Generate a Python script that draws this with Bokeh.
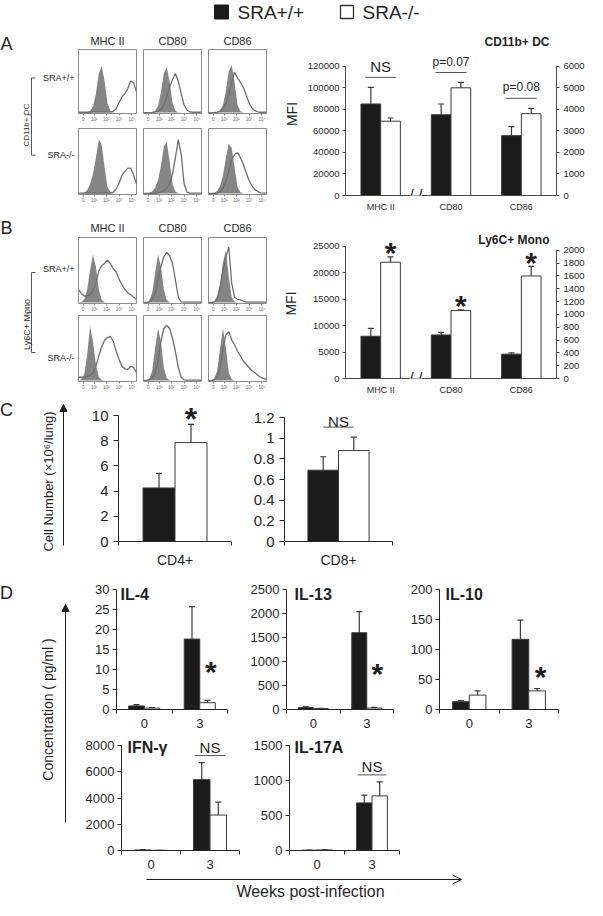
from math import pi
from bokeh.plotting import figure
from bokeh.models import (Range1d, LinearAxis, FixedTicker, NumeralTickFormatter, Label,
                          Whisker, TeeHead, ColumnDataSource, Spacer, Arrow, OpenHead, NormalHead)
from bokeh.layouts import row, column
from bokeh.embed import file_html
from bokeh.resources import INLINE
from bokeh.core.properties import value

# ---------------------------------------------------------------- data
GROUPS = ["SRA+/+", "SRA-/-"]
MARKERS = ["MHC II", "CD80", "CD86"]

# A: CD11b+ DC MFI  (MHC II -> left axis, CD80 / CD86 -> right axis)
A_WT = [85000, 3750, 2780]
A_WT_SEM = [15500, 500, 420]
A_KO = [69000, 5000, 3800]
A_KO_SEM = [3000, 250, 250]
A_SIG = ["NS", "p=0.07", "p=0.08"]

# B: Ly6C+ Mono MFI
B_WT = [8000, 680, 380]
B_WT_SEM = [1500, 40, 20]
B_KO = [22000, 1060, 1600]
B_KO_SEM = [1000, 12, 150]

# flow histograms (fraction of box height), isotype (filled) and sample (line)
HIST_X = [0.0, 0.05, 0.1, 0.15, 0.2, 0.25, 0.3, 0.35, 0.4, 0.45, 0.5,
          0.55, 0.6, 0.65, 0.7, 0.75, 0.8, 0.85, 0.9, 0.95, 1.0]
HIST_TICKS = [0.08, 0.27, 0.48, 0.70, 0.92]
HIST_TICK_LABELS = ["0", "10¹", "10²", "10³", "10⁴"]

DC_WT_MHC_FILL = [0, 0, 0.005, 0.01, 0.03, 0.1, 0.3, 0.62, 0.74, 0.5, 0.14, 0.03, 0.005, 0, 0, 0, 0, 0, 0, 0, 0]
DC_WT_MHC_LINE = [0.005, 0.005, 0.005, 0.005, 0.005, 0.01, 0.01, 0.01, 0.01, 0.01, 0.01, 0.01, 0.02, 0.06, 0.16, 0.25, 0.3, 0.38, 0.5, 0.47, 0.33]
DC_WT_CD80_FILL = [0, 0, 0.005, 0.01, 0.03, 0.1, 0.32, 0.62, 0.72, 0.5, 0.15, 0.03, 0.005, 0, 0, 0, 0, 0, 0, 0, 0]
DC_WT_CD80_LINE = [0, 0, 0, 0, 0.01, 0.02, 0.05, 0.12, 0.25, 0.4, 0.52, 0.62, 0.5, 0.3, 0.12, 0.04, 0.01, 0.005, 0.005, 0.005, 0.005]
DC_WT_CD86_FILL = [0, 0, 0.005, 0.01, 0.04, 0.12, 0.35, 0.66, 0.75, 0.48, 0.12, 0.02, 0, 0, 0, 0, 0, 0, 0, 0, 0]
DC_WT_CD86_LINE = [0, 0, 0, 0.005, 0.02, 0.06, 0.15, 0.3, 0.5, 0.64, 0.55, 0.48, 0.4, 0.28, 0.15, 0.07, 0.03, 0.01, 0.005, 0.005, 0.005]
DC_KO_MHC_FILL = [0, 0, 0.01, 0.05, 0.15, 0.3, 0.55, 0.83, 0.75, 0.4, 0.1, 0.02, 0, 0, 0, 0, 0, 0, 0, 0, 0]
DC_KO_MHC_LINE = [0.005, 0.005, 0.005, 0.005, 0.005, 0.005, 0.005, 0.005, 0.005, 0.005, 0.005, 0.005, 0.02, 0.07, 0.16, 0.28, 0.34, 0.39, 0.39, 0.28, 0.15]
DC_KO_CD80_FILL = [0, 0, 0.01, 0.03, 0.09, 0.2, 0.42, 0.72, 0.8, 0.5, 0.15, 0.03, 0.005, 0, 0, 0, 0, 0, 0, 0, 0]
DC_KO_CD80_LINE = [0, 0, 0, 0, 0, 0.01, 0.02, 0.04, 0.08, 0.15, 0.3, 0.55, 0.83, 0.6, 0.15, 0.02, 0.005, 0.005, 0.005, 0.005, 0.005]
DC_KO_CD86_FILL = [0, 0, 0.01, 0.04, 0.12, 0.28, 0.55, 0.77, 0.7, 0.4, 0.1, 0.02, 0, 0, 0, 0, 0, 0, 0, 0, 0]
DC_KO_CD86_LINE = [0, 0, 0, 0.01, 0.03, 0.08, 0.18, 0.35, 0.52, 0.6, 0.63, 0.55, 0.45, 0.32, 0.2, 0.12, 0.06, 0.03, 0.01, 0.005, 0.005]

MO_WT_MHC_FILL = [0, 0.01, 0.05, 0.2, 0.5, 0.74, 0.55, 0.2, 0.04, 0.005, 0, 0, 0, 0, 0, 0, 0, 0, 0, 0, 0]
MO_WT_MHC_LINE = [0.2, 0.14, 0.1, 0.1, 0.12, 0.18, 0.3, 0.48, 0.57, 0.6, 0.65, 0.6, 0.52, 0.47, 0.36, 0.27, 0.2, 0.15, 0.12, 0.08, 0.05]
MO_WT_CD80_FILL = [0, 0.005, 0.03, 0.15, 0.45, 0.74, 0.55, 0.2, 0.04, 0.005, 0, 0, 0, 0, 0, 0, 0, 0, 0, 0, 0]
MO_WT_CD80_LINE = [0, 0, 0.01, 0.05, 0.15, 0.35, 0.55, 0.7, 0.77, 0.72, 0.6, 0.35, 0.08, 0.01, 0.005, 0.005, 0.005, 0.005, 0.005, 0.005, 0.005]
MO_WT_CD86_FILL = [0, 0.005, 0.02, 0.1, 0.3, 0.62, 0.8, 0.4, 0.08, 0.01, 0, 0, 0, 0, 0, 0, 0, 0, 0, 0, 0]
MO_WT_CD86_LINE = [0, 0, 0.01, 0.05, 0.2, 0.5, 0.7, 0.85, 0.3, 0.08, 0.05, 0.04, 0.02, 0.005, 0.005, 0.005, 0.005, 0.005, 0.005, 0.005, 0.005]
MO_KO_MHC_FILL = [0, 0.02, 0.1, 0.4, 0.84, 0.6, 0.25, 0.05, 0.01, 0, 0, 0, 0, 0, 0, 0, 0, 0, 0, 0, 0]
MO_KO_MHC_LINE = [0.05, 0.05, 0.05, 0.06, 0.08, 0.12, 0.22, 0.38, 0.52, 0.62, 0.66, 0.68, 0.6, 0.45, 0.32, 0.22, 0.18, 0.17, 0.22, 0.2, 0.12]
MO_KO_CD80_FILL = [0, 0.005, 0.03, 0.15, 0.5, 0.8, 0.6, 0.2, 0.04, 0.005, 0, 0, 0, 0, 0, 0, 0, 0, 0, 0, 0]
MO_KO_CD80_LINE = [0, 0, 0.01, 0.04, 0.12, 0.3, 0.6, 0.8, 0.85, 0.8, 0.65, 0.45, 0.2, 0.05, 0.01, 0.005, 0.005, 0.005, 0.005, 0.005, 0.005]
MO_KO_CD86_FILL = [0, 0.005, 0.03, 0.15, 0.5, 0.8, 0.5, 0.12, 0.02, 0, 0, 0, 0, 0, 0, 0, 0, 0, 0, 0, 0]
MO_KO_CD86_LINE = [0, 0, 0.01, 0.05, 0.2, 0.5, 0.7, 0.75, 0.62, 0.55, 0.45, 0.38, 0.3, 0.25, 0.2, 0.15, 0.12, 0.08, 0.05, 0.03, 0.02]

# C: lung T cells (x10^6 / lung)
C_LABELS = ["CD4+", "CD8+"]
C_WT = [4.25, 0.69]
C_WT_SEM = [1.15, 0.13]
C_KO = [7.85, 0.88]
C_KO_SEM = [1.45, 0.13]
C1_TICKS = [0, 2, 4, 6, 8, 10]
C2_TICKS = [0, 0.2, 0.4, 0.6, 0.8, 1.0, 1.2]

# D: cytokines (pg/ml) at weeks 0 and 3
WEEKS = ["0", "3"]
IL4_WT, IL4_WT_SEM, IL4_KO, IL4_KO_SEM = [0.9, 17.6], [0.3, 8.1], [0.35, 1.7], [0.1, 0.6]
IL13_WT, IL13_WT_SEM, IL13_KO, IL13_KO_SEM = [40, 1600], [20, 440], [20, 30], [5, 15]
IL10_WT, IL10_WT_SEM, IL10_KO, IL10_KO_SEM = [13, 117], [2, 32], [24, 31], [7, 4]
IFNG_WT, IFNG_WT_SEM, IFNG_KO, IFNG_KO_SEM = [40, 5400], [20, 1300], [15, 2700], [5, 980]
IL17_WT, IL17_WT_SEM, IL17_KO, IL17_KO_SEM = [5, 680], [2, 110], [8, 780], [2, 200]

# ---------------------------------------------------------------- style
FONT = "Liberation Sans"
INK = "#1f1f1f"
BAR_BLACK = "#1b1b1b"
BAR_EDGE = "#3a3a3a"
AXIS_C = "#4a4a4a"
AXIS_D = "#262626"
HIST_FILL = "#858585"
HIST_LINE = "#6e6e6e"
BOX_C = "#8c8c8c"
SIG_C = "#555555"


def nogrid(p):
    p.xgrid.visible = False
    p.ygrid.visible = False


def canvas(w, h, x0, x1, y0, y1):
    p = figure(width=w, height=h, x_range=Range1d(x0, x1), y_range=Range1d(y1, y0),
               x_axis_location=None, y_axis_location=None, toolbar_location=None,
               output_backend="svg", min_border=0, title=None)
    p.outline_line_color = None
    nogrid(p)
    return p


def ctext(p, x, y, t, size, align="center", angle=0, bold=False):
    p.text(x=[x], y=[y], text=[t], text_align=align, text_baseline="middle", angle=angle,
           text_font=value(FONT), text_font_size=size, text_color=INK,
           text_font_style="bold" if bold else "normal")


def chart(w, h, bl, br, bt, bb, xr, yr):
    p = figure(width=w, height=h, x_range=xr, y_range=yr, x_axis_location=None,
               y_axis_location=None, toolbar_location=None, output_backend="svg", title=None,
               min_border_left=bl, min_border_right=br, min_border_top=bt, min_border_bottom=bb)
    p.outline_line_color = None
    nogrid(p)
    return p


def style(ax, size, tick_out, standoff, color):
    ax.axis_line_color = color
    ax.axis_line_width = 1
    ax.major_tick_line_color = color
    ax.major_tick_in = 0
    ax.major_tick_out = tick_out
    ax.minor_tick_line_color = None
    ax.major_label_text_font = FONT
    ax.major_label_text_font_size = size
    ax.major_label_text_color = INK
    ax.major_label_standoff = standoff


def slabel(p, x, y, t, size, align="center", angle=0, bold=False, xu="screen", yu="screen",
           yoff=0, rname="default"):
    p.add_layout(Label(x=x, y=y, x_units=xu, y_units=yu, text=t, text_font=FONT,
                       text_font_size=size, text_align=align, text_baseline="middle",
                       angle=angle, text_font_style="bold" if bold else "normal",
                       text_color=INK, y_offset=yoff, y_range_name=rname))


def bars(p, pos, wt, wt_sem, ko, ko_sem, bw, idxs, rname="default"):
    for vals, sems, off, fill in ((wt, wt_sem, -bw / 2, BAR_BLACK), (ko, ko_sem, bw / 2, "white")):
        src = ColumnDataSource(dict(x=[pos[i] + off for i in idxs], top=[vals[i] for i in idxs],
                                    up=[vals[i] + sems[i] for i in idxs]))
        p.vbar(x="x", top="top", bottom=0, width=bw, source=src, fill_color=fill,
               line_color=BAR_EDGE, line_width=1, y_range_name=rname)
        p.add_layout(Whisker(source=src, base="x", lower="top", upper="up", dimension="height",
                             line_color=BAR_EDGE, line_width=1.2, lower_head=None,
                             upper_head=TeeHead(size=6, line_color=BAR_EDGE, line_width=1.2),
                             y_range_name=rname))


def sig(p, x, y, t, size, gap, half, rname="default"):
    p.segment(x0=[x - half], x1=[x + half], y0=[y], y1=[y], line_color=SIG_C, line_width=1,
              y_range_name=rname)
    slabel(p, x, y, t, size, xu="data", yu="data", yoff=gap, rname=rname)


def star(p, x, y, size="30px", yu="data", yoff=4, rname="default"):
    p.add_layout(Label(x=x, y=y, y_units=yu, y_offset=yoff, text="*", text_font=FONT,
                       text_font_size=size, text_font_style="bold", text_align="center",
                       text_baseline="middle", text_color=INK, y_range_name=rname))


# ---------------------------------------------------------------- legend row
leg = canvas(587, 24, 8, 595, 8, 32)
leg.scatter(x=[229], y=[19.5], marker="square", size=14, fill_color=BAR_BLACK, line_color=BAR_BLACK)
leg.scatter(x=[354.5], y=[19.5], marker="square", size=13, fill_color="white", line_color="#333333",
            line_width=1.3)
ctext(leg, 245, 19.5, GROUPS[0], "19px", align="left")
ctext(leg, 370, 19.5, GROUPS[1], "19px", align="left")


# ---------------------------------------------------------------- histograms
def hist(fill, line, fh, bt, bb):
    p = chart(65, bt + fh + bb, 1, 6, bt, bb, Range1d(0, 1), Range1d(-0.015, 1.0))
    p.outline_line_color = BOX_C
    p.varea(x=HIST_X, y1=0, y2=fill, fill_color=HIST_FILL)
    p.line(HIST_X, line, line_color=HIST_LINE, line_width=1.3)
    ax = LinearAxis(ticker=FixedTicker(ticks=HIST_TICKS),
                    major_label_overrides=dict(zip(HIST_TICKS, HIST_TICK_LABELS)))
    style(ax, "4.5px", 2, 1, BOX_C)
    ax.axis_line_color = None
    ax.major_label_text_color = "#666666"
    p.add_layout(ax, "below")
    return p


def hist_block(r1, r2, y0, y1, ty, fh1, bt1, bb1, fh2, bt2, bb2):
    heads = canvas(195, y1 - y0, 85, 280, y0, y1)
    for i, m in enumerate(MARKERS):
        ctext(heads, 85 + 1 + 29 + 65 * i, ty, m, "11px")
    top = row(*[hist(f, l, fh1, bt1, bb1) for (f, l) in r1])
    bot = row(*[hist(f, l, fh2, bt2, bb2) for (f, l) in r2])
    return column(heads, top, bot)


def side_labels(p, letter, ly, sy1, sy2, bt, bb, bm, cell, cell_size, cell_y):
    ctext(p, 14, ly, letter, "18px")
    ctext(p, 82, sy1, GROUPS[0], "9px", align="right")
    ctext(p, 82, sy2, GROUPS[1], "9px", align="right")
    p.segment(x0=[39, 39, 39, 35], y0=[bt, bt, bb, bm], x1=[39, 43, 43, 39], y1=[bb, bt, bb, bm],
              line_color="#555555", line_width=1)
    ctext(p, 34, cell_y, cell, cell_size, angle=pi / 2)
    return p


# ---------------------------------------------------------------- MFI charts
def mfi_chart(FL, FB, bl, fw, br, bt, fh, bb, y_top, y_top_px, y_step, r_top, r_top_px, r_step,
              wt, wt_sem, ko, ko_sem, title, title_y, mfi_standoff):
    p = chart(bl + fw + br, bt + fh + bb, bl, br, bt, bb, Range1d(-0.5, 2.5),
              Range1d(0, y_top * fh / y_top_px))
    p.extra_y_ranges = {"r": Range1d(0, r_top * fh / r_top_px)}
    pos = list(range(len(MARKERS)))
    bw = 0.28
    bars(p, pos, wt, wt_sem, ko, ko_sem, bw, [0])
    bars(p, pos, wt, wt_sem, ko, ko_sem, bw, [1, 2], "r")
    left = LinearAxis(ticker=FixedTicker(ticks=list(range(0, y_top + 1, y_step))),
                      formatter=NumeralTickFormatter(format="0"), bounds=(0, y_top),
                      axis_label="MFI")
    style(left, "9.5px", 3, 3, AXIS_C)
    left.axis_label_text_font = FONT
    left.axis_label_text_font_size = "14px"
    left.axis_label_text_font_style = "normal"
    left.axis_label_text_color = INK
    left.axis_label_standoff = mfi_standoff
    p.add_layout(left, "left")
    right = LinearAxis(y_range_name="r", ticker=FixedTicker(ticks=list(range(0, r_top + 1, r_step))),
                       formatter=NumeralTickFormatter(format="0"), bounds=(0, r_top))
    style(right, "9.5px", 3, 4, AXIS_C)
    p.add_layout(right, "right")
    xa = LinearAxis(ticker=FixedTicker(ticks=pos), major_label_overrides=dict(zip(pos, MARKERS)))
    style(xa, "9px", 0, 6, AXIS_C)
    xa.major_tick_line_color = None
    p.add_layout(xa, "below")
    p.add_layout(Label(x=0.5, y=0, text="/ /", text_font=FONT, text_font_size="16px",
                       text_align="center", text_baseline="middle", text_color=INK,
                       background_fill_color="white"))
    slabel(p, 557 - FL, FB - title_y, title, "12px", align="right", bold=True)
    return p, pos, bw


A_FH = 164
barA, posA, bwA = mfi_chart(353, 204, 73, 211, 31, 8, A_FH, 18, 120000, 130, 20000, 6000, 130, 1000,
                            A_WT, A_WT_SEM, A_KO, A_KO_SEM, "CD11b+ DC", 50, 5)
for i in range(len(MARKERS)):
    rng = barA.y_range.end if i == 0 else barA.extra_y_ranges["r"].end
    top = max(A_WT[i] + A_WT_SEM[i], A_KO[i] + A_KO_SEM[i]) + 10 * rng / A_FH
    sig(barA, posA[i], top, A_SIG[i], "15px" if A_SIG[i] == "NS" else "12px", 11, 0.22,
        "default" if i == 0 else "r")

barB, posB, bwB = mfi_chart(353, 387, 73, 213, 29, 14, 151, 18, 25000, 133, 5000, 2000, 129, 200,
                            B_WT, B_WT_SEM, B_KO, B_KO_SEM, "Ly6C+ Mono", 248, 11)
for i in range(len(MARKERS)):
    star(barB, posB[i] + bwB / 2, B_KO[i] + B_KO_SEM[i], rname="default" if i == 0 else "r")

leftA = side_labels(canvas(77, 190, 8, 85, 32, 222), "A", 45, 85, 175, 85, 175, 128,
                    "CD11b+ DC", "8px", 140)
secA = row(
    leftA,
    hist_block([(DC_WT_MHC_FILL, DC_WT_MHC_LINE), (DC_WT_CD80_FILL, DC_WT_CD80_LINE),
                (DC_WT_CD86_FILL, DC_WT_CD86_LINE)],
               [(DC_KO_MHC_FILL, DC_KO_MHC_LINE), (DC_KO_CD80_FILL, DC_KO_CD80_LINE),
                (DC_KO_CD86_FILL, DC_KO_CD86_LINE)], 32, 55, 48, 65, 2, 10, 66, 4, 20),
    barA)

# left strip shared by panels B and C
leftBC = side_labels(canvas(77, 358, 8, 85, 222, 580), "B", 235, 276, 365, 280, 360, 320,
                     "Ly6C+ Mono", "9px", 332)
ctext(leftBC, 14, 417, "C", "18px")
leftBC.add_layout(Arrow(x_start=71, y_start=553, x_end=71, y_end=412, line_color=INK, line_width=1,
                        end=NormalHead(size=7, fill_color=INK, line_color=INK)))
ctext(leftBC, 56, 489, "Cell Number (×10⁶/lung)", "13px", angle=pi / 2)

rowB = row(
    hist_block([(MO_WT_MHC_FILL, MO_WT_MHC_LINE), (MO_WT_CD80_FILL, MO_WT_CD80_LINE),
                (MO_WT_CD86_FILL, MO_WT_CD86_LINE)],
               [(MO_KO_MHC_FILL, MO_KO_MHC_LINE), (MO_KO_CD80_FILL, MO_KO_CD80_LINE),
                (MO_KO_CD86_FILL, MO_KO_CD86_LINE)], 222, 243, 235, 67, 2, 10, 66, 1, 16),
    barB)


# ---------------------------------------------------------------- C
C_FH = 141


def cell_chart(k, bl, fw, br, y_top, y_top_px, ticks, fmt):
    p = chart(bl + fw + br, 175, bl, br, 3, 31, Range1d(0, 1), Range1d(0, y_top * C_FH / y_top_px))
    pos = [0.5]
    bw = 0.283
    bars(p, pos, [C_WT[k]], [C_WT_SEM[k]], [C_KO[k]], [C_KO_SEM[k]], bw, [0])
    ya = LinearAxis(ticker=FixedTicker(ticks=ticks), formatter=NumeralTickFormatter(format=fmt),
                    bounds=(0, y_top))
    style(ya, "15px", 5, 5, AXIS_D)
    p.add_layout(ya, "left")
    xa = LinearAxis(ticker=FixedTicker(ticks=pos, minor_ticks=[0, 1]),
                    major_label_overrides={0.5: C_LABELS[k]})
    style(xa, "14px", 4, 6, AXIS_D)
    xa.major_tick_line_color = None
    xa.minor_tick_line_color = AXIS_D
    xa.minor_tick_in = 0
    xa.minor_tick_out = 4
    p.add_layout(xa, "below")
    return p, bw


c1, bwc = cell_chart(0, 41, 113, 19, 10, 126, C1_TICKS, "0")
star(c1, 0.5 + bwc / 2, C_KO[0] + C_KO_SEM[0], size="32px", yoff=5)
c2, _ = cell_chart(1, 34, 108, 20, 1.2, 124, C2_TICKS, "0.[0]")
sig(c2, 0.5, max(C_WT[1] + C_WT_SEM[1], C_KO[1] + C_KO_SEM[1]) + 10 * c2.y_range.end / C_FH,
    "NS", "15px", 6, 0.14)

rowC = row(c1, c2, Spacer(width=175, height=175))
secBC = row(leftBC, column(rowB, rowC))


# ---------------------------------------------------------------- D
def cyto(bl, fw, br, bt, fh, bb, top_px, y_end, y_step, wt, wt_sem, ko, ko_sem, title, tdx, tdy):
    p = chart(bl + fw + br, bt + fh + bb, bl, br, bt, bb, Range1d(0, len(WEEKS)),
              Range1d(0, y_end * fh / top_px))
    pos = [i + 0.5 for i in range(len(WEEKS))]
    bw = 0.28
    bars(p, pos, wt, wt_sem, ko, ko_sem, bw, list(range(len(WEEKS))))
    ya = LinearAxis(ticker=FixedTicker(ticks=list(range(0, y_end + 1, y_step))),
                    formatter=NumeralTickFormatter(format="0"), bounds=(0, y_end))
    style(ya, "13px", 4, 3, AXIS_D)
    p.add_layout(ya, "left")
    xa = LinearAxis(ticker=FixedTicker(ticks=pos, minor_ticks=list(range(len(WEEKS) + 1))),
                    major_label_overrides=dict(zip(pos, WEEKS)))
    style(xa, "13px", 4, 5, AXIS_D)
    xa.major_tick_line_color = None
    xa.minor_tick_line_color = AXIS_D
    xa.minor_tick_in = 0
    xa.minor_tick_out = 4
    p.add_layout(xa, "below")
    slabel(p, tdx, fh - tdy, title, "16px", align="left", bold=True)
    return p, pos, bw


il4, pos4, bwd = cyto(34, 111, 20, 8, 129, 28, 120, 30, 5, IL4_WT, IL4_WT_SEM, IL4_KO, IL4_KO_SEM, "IL-4", 4, 14)
il13, _, _ = cyto(39, 107, 14, 8, 129, 28, 120, 2500, 500, IL13_WT, IL13_WT_SEM, IL13_KO, IL13_KO_SEM, "IL-13", 8, 14)
il10, _, _ = cyto(32, 119, 29, 8, 129, 28, 120, 200, 50, IL10_WT, IL10_WT_SEM, IL10_KO, IL10_KO_SEM, "IL-10", 6, 14)
for fig_, h_ in ((il4, 38), (il13, 36), (il10, 33)):
    star(fig_, pos4[1] + bwd / 2 + 0.06, h_, yu="screen", yoff=0)

ifng, _, _ = cyto(38, 119, 11, 0, 113, 22, 105, 8000, 2000, IFNG_WT, IFNG_WT_SEM, IFNG_KO, IFNG_KO_SEM, "IFN-γ", 6, 10)
il17, _, _ = cyto(37, 112, 188, 0, 113, 22, 105, 1500, 500, IL17_WT, IL17_WT_SEM, IL17_KO, IL17_KO_SEM, "IL-17A", 5, 10)
sig(ifng, pos4[1], max(IFNG_WT[1] + IFNG_WT_SEM[1], IFNG_KO[1] + IFNG_KO_SEM[1]) + 7 * 8000 / 105,
    "NS", "15px", 8, 0.26)
sig(il17, pos4[1], max(IL17_WT[1] + IL17_WT_SEM[1], IL17_KO[1] + IL17_KO_SEM[1]) + 7 * 1500 / 105,
    "NS", "15px", 8, 0.26)

wk = canvas(505, 28, 90, 595, 880, 908)
wk.add_layout(Arrow(x_start=154, y_start=887, x_end=469, y_end=887, line_color=INK, line_width=1,
                    end=OpenHead(size=9, line_color=INK, line_width=1)))
ctext(wk, 318, 899, "Weeks post-infection", "16px")

dl = canvas(82, 328, 8, 90, 580, 908)
ctext(dl, 14, 600, "D", "18px")
dl.add_layout(Arrow(x_start=73, y_start=830, x_end=73, y_end=612, line_color=INK, line_width=1,
                    end=NormalHead(size=7, fill_color=INK, line_color=INK)))
ctext(dl, 55, 717, "Concentration ( pg/ml )", "14px", angle=pi / 2)

secD = row(dl, column(row(il4, il13, il10), row(ifng, il17), wk))

layout = column(leg, secA, secBC, secD)
open("out.html", "w").write(file_html(layout, INLINE, "SRA figure"))
